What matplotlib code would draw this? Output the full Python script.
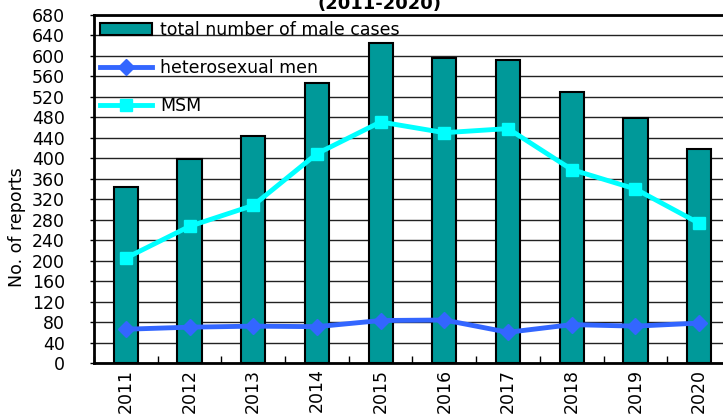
import numpy as np
import matplotlib
matplotlib.use("Agg")
import matplotlib.pyplot as plt
from matplotlib.ticker import MultipleLocator

# dados
anos = ['2011', '2012', '2013', '2014', '2015', '2016', '2017', '2018', '2019', '2020']
total_homens = [344, 399, 443, 548, 626, 595, 592, 530, 478, 418]
heterossexuais = [66, 70, 72, 71, 83, 84, 60, 75, 72, 78]
hsh = [205, 267, 308, 409, 471, 450, 458, 378, 340, 273]

plt.rcParams['font.family'] = 'DejaVu Sans'

fig = plt.figure(figsize=(7.23, 4.16), dpi=100)
ax = fig.add_axes([0.130, 0.1274, 0.881, 0.8366])

x = np.arange(len(anos))
barras = ax.bar(x, total_homens, width=0.38, color='#009999', edgecolor='black',
                linewidth=1.5, zorder=3, label='total number of male cases')
linha_het, = ax.plot(x, heterossexuais, color='#3366FF', linewidth=3.5, marker='D',
                     markersize=8, zorder=4, label='heterosexual men')
linha_hsh, = ax.plot(x, hsh, color='#00FFFF', linewidth=3.5, marker='s',
                     markersize=9, zorder=4, label='MSM')

ax.set_xlim(-0.5, len(anos) - 0.5)
ax.set_ylim(0, 680)
ax.yaxis.set_major_locator(MultipleLocator(40))
ax.grid(axis='y', color='#222222', linewidth=1, zorder=0)
ax.set_axisbelow(True)

ax.set_xticks(x)
ax.set_xticklabels(anos, rotation=90, fontsize=12.5)
ax.set_xticks(np.arange(-0.5, len(anos), 1), minor=True)
ax.tick_params(axis='x', which='major', length=0, pad=4)
ax.tick_params(axis='x', which='minor', direction='in', length=5, width=1)
ax.tick_params(axis='y', length=3, width=1, labelsize=12.5, pad=18)

for lado in ['left', 'bottom', 'top']:
    ax.spines[lado].set_linewidth(2)
ax.spines['right'].set_visible(False)

fig.text(0.023, 1 - 227 / 416, 'No. of reports', rotation=90,
         fontsize=12.5, ha='center', va='center')
fig.text(0.525, 1 - 13 / 416, '(2011-2020)', fontsize=13,
         fontweight='bold', ha='center', va='bottom')

ax.legend([barras, linha_het, linha_hsh],
          ['total number of male cases', 'heterosexual men', 'MSM'],
          loc='upper left', frameon=False, fontsize=12.5, handlelength=3,
          handletextpad=0.45, labelspacing=1.15, borderaxespad=0.35,
          borderpad=0.0)

fig.savefig('out.png', dpi=100)
